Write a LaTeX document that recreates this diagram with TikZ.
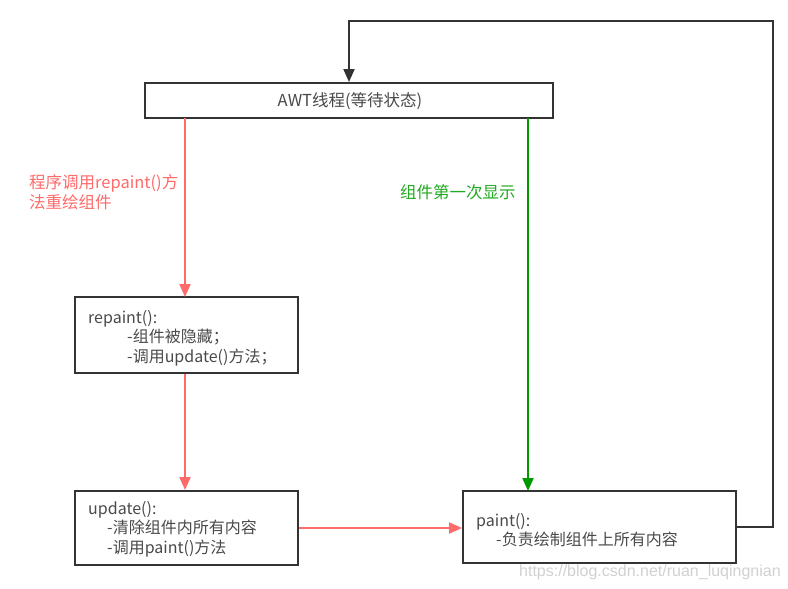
\documentclass[tikz,border=0pt]{standalone}
\usepackage{fontspec}
\setmainfont{Noto Sans CJK SC}
\newfontfamily\wmfont{Liberation Sans}
\usetikzlibrary{arrows.meta}
\definecolor{boxline}{HTML}{333333}
\definecolor{txt}{HTML}{4A4A4A}
\definecolor{redc}{HTML}{FF6B6B}
\definecolor{greenc}{HTML}{009900}
\definecolor{greent}{HTML}{22AA22}
\begin{document}
\begin{tikzpicture}[x=1pt,y=-1pt,
  box/.style={draw=boxline,line width=2pt,fill=white,inner sep=0pt},
  btext/.style={text=txt,font=\fontsize{16}{19.5}\selectfont,align=left,anchor=west,inner sep=0pt},
  redarrow/.style={draw=redc,line width=2pt,-{Triangle[length=13pt,width=11pt]}},
  greenarrow/.style={draw=greenc,line width=2pt,-{Triangle[length=13pt,width=11pt]}},
  backarrow/.style={draw=boxline,line width=2pt,-{Triangle[length=13pt,width=11pt]}},
  lbl/.style={font=\fontsize{16.5}{20}\selectfont,align=left,inner sep=0pt}]
\useasboundingbox[fill=white] (0,0) rectangle (788,589);
% boxes
\node[box,minimum width=408pt,minimum height=35pt] (awt) at (349,100.5) {};
\node[text=txt,font=\fontsize{16.5}{18}\selectfont] (awtt) at (350,101) {AWT线程(等待状态)};
\node[box,minimum width=223pt,minimum height=76pt] (rep) at (186.5,335) {};
\node[box,minimum width=223pt,minimum height=74pt] (upd) at (186.5,528) {};
\node[box,minimum width=273pt,minimum height=72pt] (pnt) at (599.5,527) {};
% box texts
\node[btext] (rept) at (88,338) {repaint():\\\hspace*{39pt}-组件被隐藏；\\\hspace*{39pt}-调用update()方法；};
\node[btext] (updt) at (88,529) {update():\\\hspace*{19pt}-清除组件内所有内容\\\hspace*{19pt}-调用paint()方法};
\node[btext] (pntt) at (476,530) {paint():\\\hspace*{20pt}-负责绘制组件上所有内容};
% connectors
\draw[redarrow] (185,118) -- (185,297);
\draw[redarrow] (rep.south -| 185,0) -- (upd.north -| 185,0);
\draw[redarrow] (upd.east |- 0,528) -- (pnt.west |- 0,528);
\draw[greenarrow] (528,118) -- (528,491);
\coordinate (c1) at (773,527);
\coordinate (c2) at (773,21);
\coordinate (c3) at (349,21);
\draw[backarrow] (pnt.east |- c1) -- (c1) -- (c2) -- (c3) -- (awt.north);
% labels
\node[lbl,text=redc,anchor=west] (rl) at (29,192) {程序调用repaint()方\\法重绘组件};
\node[lbl,text=greent,anchor=west] (gl) at (400,192) {组件第一次显示};
% watermark
\node[text=black!18,font=\wmfont\fontsize{16}{18}\selectfont,anchor=west,inner sep=0pt] (wm) at (519,572) {https://blog.csdn.net/ruan\_luqingnian};
\end{tikzpicture}
\end{document}
